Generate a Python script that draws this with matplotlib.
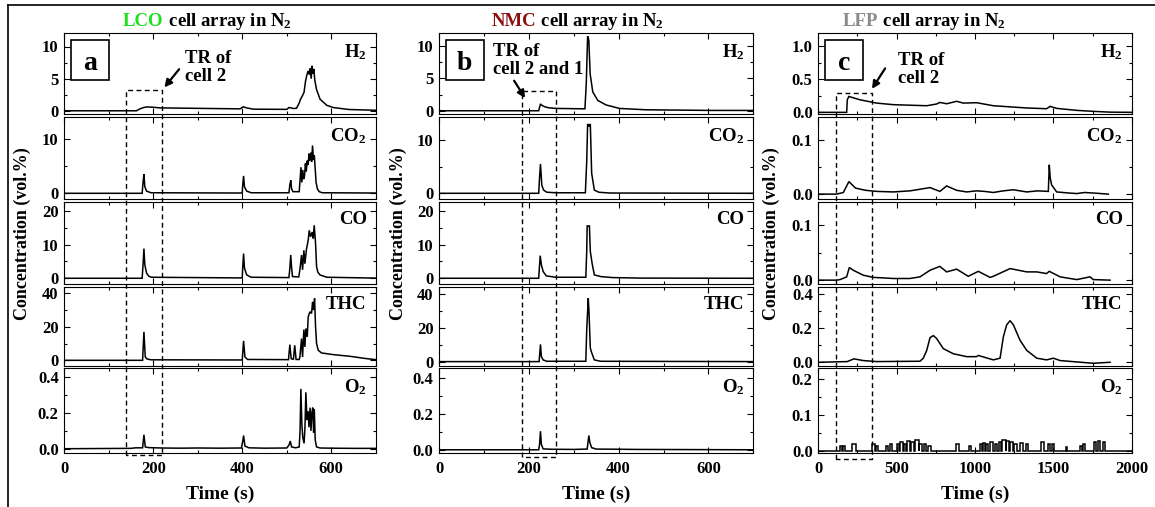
import matplotlib
matplotlib.use("Agg")
import matplotlib.pyplot as plt
from matplotlib.ticker import MultipleLocator, FormatStrFormatter
from matplotlib.lines import Line2D
from matplotlib.patches import Rectangle
from matplotlib import transforms

plt.rcParams['font.family'] = ['Liberation Serif', 'DejaVu Serif']
plt.rcParams['font.weight'] = 'bold'
plt.rcParams['mathtext.fontset'] = 'custom'
plt.rcParams['mathtext.rm'] = 'Liberation Serif:bold'
plt.rcParams['mathtext.bf'] = 'Liberation Serif:bold'
plt.rcParams['mathtext.it'] = 'Liberation Serif:bold:italic'

# ---------------- data ----------------
gases = ['H$_2$', 'CO$_2$', 'CO', 'THC', 'O$_2$']
chemistries = ['LCO', 'NMC', 'LFP']
chem_colors = ['#1ee01e', '#8b1010', '#8a8a8a']
panel_letters = ['a', 'b', 'c']
tr_notes = ['TR of\ncell 2', 'TR of\ncell 2 and 1', 'TR of\ncell 2']

# LCO cell array
lco_h2_t = [0, 162, 170, 178, 185, 200, 215, 300, 395, 402, 410, 425, 500, 505, 510, 515, 522,
            528, 531, 535, 539, 542, 545, 548, 551, 553, 555, 557, 559, 561, 563, 567, 575, 590, 605, 640, 700]
lco_h2_v = [0, 0, 0.3, 0.5, 0.6, 0.55, 0.45, 0.38, 0.3, 0.62, 0.45, 0.25, 0.22, 0.5, 0.45, 0.35, 0.4,
            1.2, 1.8, 2.3, 2.9, 4.5, 5.5, 6.2, 5.6, 6.6, 5.0, 7.0, 5.8, 6.5, 4.8, 3.3, 1.8, 0.85, 0.5, 0.2, 0.08]

lco_co2_t = [0, 175, 177, 179, 181, 185, 195, 400, 401, 403, 405, 410, 420, 505, 507, 509, 511, 514,
             528, 530, 532, 534, 536, 538, 540, 542, 544, 546, 548, 550, 552, 554, 556, 558, 560, 562,
             564, 566, 569, 573, 580, 700]
lco_co2_v = [0, 0, 2, 3.5, 1.2, 0.4, 0.1, 0.05, 1.5, 3.2, 1.2, 0.4, 0.1, 0.1, 1.5, 2.4, 0.8, 0.3,
             0.3, 2.5, 4.8, 2.0, 4.3, 2.6, 3.2, 5.5, 4.0, 6.0, 5.2, 7.3, 6.0, 7.5, 5.8, 8.8, 6.2, 7.0,
             4.5, 2.0, 0.8, 0.3, 0.1, 0.05]

lco_co_t = [0, 175, 177, 179, 181, 185, 190, 196, 400, 401, 403, 405, 410, 420, 505, 507, 509, 511, 513,
            527, 529.6, 533.3, 535.6, 538.6, 540.8, 544.6, 548.3, 550.6, 553.6, 557.3, 559.6, 561.8,
            564.8, 567.1, 570, 574.6, 590, 700]
lco_co_v = [0, 0, 4, 8.8, 4.0, 1.5, 0.6, 0.3, 0.1, 3, 7.3, 3.0, 1.0, 0.3, 0.2, 3, 6.9, 3, 0.5,
            0.4, 2.5, 6.9, 2.5, 8.3, 4.3, 8.8, 11.3, 14.2, 12.3, 13.7, 11.8, 15.7,
            10.3, 3.4, 1.8, 1.0, 0.3, 0.05]

lco_thc_t = [0, 176, 179, 182, 186, 195, 400, 403, 406, 412, 504, 507, 510, 515, 518, 521, 528,
             529.6, 533.3, 535.6, 538.6, 540.8, 543.1, 546.1, 548.3, 552.1, 555.8, 558.1, 560.3, 562.6,
             564.8, 567.1, 570.8, 578.3, 604.6, 642, 679.5, 700]
lco_thc_v = [0, 0, 17, 2, 0.8, 0.3, 0.2, 11.6, 2, 0.5, 0.4, 9.4, 1.0, 0.5, 9.0, 0.5, 0.5,
             2, 13, 2, 18.4, 8, 19, 14, 26, 29, 28, 35, 30, 37,
             20, 10, 6, 4.4, 3.4, 2.4, 1.0, 0.4]

lco_o2_t = [0, 150, 160, 176, 179, 182, 190, 220, 260, 300, 350, 398, 401, 403, 406, 415, 450, 500,
            505, 508, 511, 520, 528, 530, 531.8, 534, 536, 539, 541, 543, 545.5, 548, 550, 552.5,
            554.5, 556.5, 558.5, 560.5, 562, 564, 567, 575, 600, 650, 700]
lco_o2_v = [0, 0.002, 0.005, 0.005, 0.078, 0.01, 0.006, 0.004, 0.003, 0.004, 0.003, 0.004, 0.04, 0.074,
            0.015, 0.005, 0.003, 0.004, 0.02, 0.043, 0.01, 0.005, 0.01, 0.1, 0.335, 0.14, 0.065, 0.03,
            0.12, 0.316, 0.16, 0.21, 0.12, 0.23, 0.1, 0.2, 0.23, 0.09, 0.22, 0.05, 0.01, 0.004,
            0.003, 0.002, 0.002]

# NMC cell array
nmc_h2_t = [0, 222, 226, 230, 236, 245, 262, 300, 325, 328, 331, 333.7, 336.6, 342.5, 353.6, 372, 402, 461, 609, 700]
nmc_h2_v = [0, 0, 1.05, 0.8, 0.6, 0.45, 0.36, 0.32, 0.3, 4.2, 11.5, 10.9, 5.7, 2.9, 1.6, 0.9, 0.36, 0.15, 0.05, 0.05]

nmc_co2_t = [0, 222, 224, 226, 229, 233, 240, 260, 326, 329, 331, 334, 337, 340, 346, 356, 380, 700]
nmc_co2_v = [0, 0, 3, 5.5, 1.5, 0.6, 0.2, 0.1, 0.1, 6, 13, 12.5, 13, 3.75, 0.6, 0.2, 0.05, 0]

nmc_co_t = [0, 222, 225.4, 228, 232, 239, 260, 327, 329, 330, 333, 335, 337, 341, 346, 360, 387, 450, 700]
nmc_co_v = [0, 0, 6.7, 4, 2, 0.7, 0.3, 0.3, 8, 15.5, 15.5, 15.5, 8, 4.4, 1, 0.5, 0.2, 0.05, 0]

nmc_thc_t = [0, 223, 226, 228, 232, 240, 327, 329, 332.4, 334, 337, 340, 346, 360, 700]
nmc_thc_v = [0, 0, 10.2, 3, 1, 0.2, 0.2, 19, 37.6, 30, 8, 5.3, 1, 0.2, 0]

nmc_o2_t = [0, 222, 224, 226, 228, 232, 250, 300, 330, 333.7, 336, 340, 350, 400, 440, 700]
nmc_o2_v = [0, 0, 0.03, 0.104, 0.03, 0.005, 0.003, 0.002, 0.004, 0.08, 0.04, 0.012, 0.004, 0.003, 0.002, 0]

# LFP cell array
lfp_h2_t = [0, 181, 185, 195, 266, 372, 479, 692, 755, 776, 819, 883, 925, 1010, 1117, 1330, 1457,
            1479, 1521, 1649, 1755, 1862, 2000]
lfp_h2_v = [0, 0, 0.19, 0.24, 0.19, 0.14, 0.116, 0.1, 0.126, 0.15, 0.13, 0.167, 0.14, 0.146, 0.1,
            0.066, 0.055, 0.09, 0.06, 0.03, 0.015, 0.003, 0]

lfp_co2_t = [0, 117, 160, 195, 238, 302, 372, 479, 585, 650, 713, 776, 819, 883, 947, 1010, 1060,
             1117, 1180, 1245, 1330, 1400, 1468, 1474, 1480, 1489, 1521, 1600, 1649, 1700, 1755, 1851]
lfp_co2_v = [0, 0, 0.003, 0.023, 0.011, 0.007, 0.005, 0.004, 0.006, 0.009, 0.012, 0.005, 0.015,
             0.007, 0.004, 0.006, 0.005, 0.003, 0.006, 0.008, 0.004, 0.006, 0.005, 0.054, 0.03,
             0.017, 0.004, 0.002, 0.001, 0.003, 0.002, 0.0]

lfp_co_t = [0, 117, 139, 181, 198, 223, 287, 351, 420, 479, 585, 649, 713, 776, 819, 883, 957, 1021,
            1096, 1117, 1224, 1330, 1394, 1457, 1474, 1543, 1649, 1734, 1755, 1862]
lfp_co_v = [0, 0, 0.001, 0.006, 0.023, 0.018, 0.009, 0.005, 0.004, 0.003, 0.003, 0.006, 0.018, 0.025,
            0.015, 0.02, 0.007, 0.016, 0.005, 0.007, 0.021, 0.015, 0.015, 0.012, 0.016, 0.006,
            0.001, 0.006, 0.001, 0]

lfp_thc_t = [0, 185, 227, 287, 372, 649, 670, 692, 713, 734, 755, 798, 862, 947, 1010, 1021, 1117,
             1160, 1181, 1202, 1224, 1245, 1287, 1330, 1394, 1457, 1500, 1543, 1649, 1755, 1862]
lfp_thc_v = [0, 0.004, 0.02, 0.01, 0.004, 0.006, 0.024, 0.07, 0.145, 0.157, 0.14, 0.08, 0.05, 0.033,
             0.033, 0.04, 0.014, 0.024, 0.15, 0.22, 0.245, 0.22, 0.13, 0.07, 0.024, 0.014, 0.024,
             0.01, 0.002, -0.006, 0]

# O2 readings of the LFP run: (start, end, level) of each non-zero reading
lfp_o2_pulses = [(140, 150, 0.015), (160, 170, 0.015), (215, 240, 0.018), (345, 360, 0.018),
                 (368, 380, 0.015), (430, 445, 0.015), (455, 470, 0.018), (500, 515, 0.02),
                 (520, 540, 0.025), (545, 560, 0.02), (565, 585, 0.028), (590, 610, 0.025),
                 (620, 640, 0.03), (645, 660, 0.02), (675, 690, 0.018), (700, 720, 0.015),
                 (880, 895, 0.02), (960, 975, 0.015), (1030, 1045, 0.02), (1050, 1065, 0.022),
                 (1070, 1085, 0.018), (1095, 1115, 0.025), (1125, 1140, 0.02), (1150, 1165, 0.025),
                 (1175, 1195, 0.03), (1200, 1215, 0.028), (1225, 1240, 0.025), (1250, 1265, 0.02),
                 (1290, 1305, 0.022), (1325, 1340, 0.02), (1420, 1440, 0.025), (1465, 1480, 0.02),
                 (1490, 1505, 0.018), (1580, 1590, 0.012), (1670, 1685, 0.015), (1690, 1705, 0.018),
                 (1760, 1775, 0.025), (1785, 1800, 0.028), (1815, 1830, 0.025)]
lfp_o2_end = 2000

# axis limits and tick steps per chemistry, per gas
ylims = [
    [(-0.5, 12.1), (-1.05, 14.05), (-1.7, 22.6), (-3.4, 43.8), (-0.024, 0.452)],
    [(-0.5, 12.0), (-1.07, 14.3), (-1.7, 22.6), (-2.6, 44.2), (-0.018, 0.458)],
    [(-0.025, 1.2), (-0.009, 0.142), (-0.007, 0.142), (-0.022, 0.443), (-0.006, 0.232)],
]
ymajor = [[5, 10, 10, 20, 0.2], [5, 10, 10, 20, 0.2], [0.5, 0.1, 0.1, 0.2, 0.1]]
yfmt = [['%d', '%d', '%d', '%d', '%.1f'], ['%d', '%d', '%d', '%d', '%.1f'],
        ['%.1f', '%.1f', '%.1f', '%.1f', '%.1f']]
xmax = [700, 700, 2000]
xmajor = [200, 200, 500]

# ---------------- build series ----------------
def pulses_to_line(pulses, t_end):
    t, v = [0], [0]
    for s, e, h in pulses:
        t += [s, s, e, e]
        v += [0, h, h, 0]
    t.append(t_end)
    v.append(0)
    return t, v

lfp_o2_t, lfp_o2_v = pulses_to_line(lfp_o2_pulses, lfp_o2_end)

series = [
    [(lco_h2_t, lco_h2_v), (lco_co2_t, lco_co2_v), (lco_co_t, lco_co_v), (lco_thc_t, lco_thc_v), (lco_o2_t, lco_o2_v)],
    [(nmc_h2_t, nmc_h2_v), (nmc_co2_t, nmc_co2_v), (nmc_co_t, nmc_co_v), (nmc_thc_t, nmc_thc_v), (nmc_o2_t, nmc_o2_v)],
    [(lfp_h2_t, lfp_h2_v), (lfp_co2_t, lfp_co2_v), (lfp_co_t, lfp_co_v), (lfp_thc_t, lfp_thc_v), (lfp_o2_t, lfp_o2_v)],
]

# dashed window around the thermal runaway of cell 2 (time range, top level on the H2 axis)
tr_window = [(138, 220, 3.2), (184, 260, 3.0), (113, 340, 0.3)]
tr_window_drop = [0.02, 0.05, 0.075]
tr_text_xy = [(271, 6.7), (120, 7.8), (508, 0.65)]
tr_arrow_tail = [(262, 6.8), (164, 5.0), (436, 0.70)]
tr_arrow_tip = [(221, 3.3), (195, 1.6), (333, 0.32)]

# ---------------- layout ----------------
W, H = 1155, 507
fig = plt.figure(figsize=(W / 100, H / 100), dpi=100)

col_x = [(64.3, 375.7), (439.0, 753.3), (818.3, 1131.7)]
row_y = [(33, 114), (117, 199), (202, 284), (287, 366), (368, 453)]
ylabel_x = [22, 398, 771]
title_x = [123, 491.5, 843]


def rect(x0, x1, y0, y1):
    return [x0 / W, 1 - y1 / H, (x1 - x0) / W, (y1 - y0) / H]


LW = 1.1
for p in range(3):
    axes = []
    for g in range(5):
        ax = fig.add_axes(rect(col_x[p][0], col_x[p][1], row_y[g][0], row_y[g][1]))
        t, v = series[p][g]
        ax.plot(t, v, color='black', lw=LW, solid_joinstyle='miter')
        ax.set_xlim(0, xmax[p])
        ax.set_ylim(*ylims[p][g])
        ax.xaxis.set_major_locator(MultipleLocator(xmajor[p]))
        ax.xaxis.set_minor_locator(MultipleLocator(xmajor[p] / 2))
        ax.yaxis.set_major_locator(MultipleLocator(ymajor[p][g]))
        ax.yaxis.set_minor_locator(MultipleLocator(ymajor[p][g] / 2))
        ax.yaxis.set_major_formatter(FormatStrFormatter(yfmt[p][g]))
        ax.tick_params(which='both', direction='in', top=True, right=True, width=0.8,
                       labelsize=12, pad=4)
        ax.tick_params(which='major', length=4)
        ax.tick_params(which='minor', length=2.5)
        if g < 4:
            ax.tick_params(labelbottom=False)
        else:
            ax.tick_params(axis='x', pad=6)
        for s in ax.spines.values():
            s.set_linewidth(0.8)
        ax.text(1 - 9 / (col_x[p][1] - col_x[p][0]), 1 - 9 / (row_y[g][1] - row_y[g][0]),
                gases[g], transform=ax.transAxes, ha='right', va='top', fontsize=13.5,
                fontweight='bold')
        axes.append(ax)

    top = axes[0]
    # panel letter in a box
    bx0, bx1 = 0.022, 0.142
    by0, by1 = 0.42, 0.91
    top.add_patch(Rectangle((bx0, by0), bx1 - bx0, by1 - by0, transform=top.transAxes,
                            fill=False, ec='black', lw=1.2, zorder=5))
    top.text((bx0 + bx1) / 2, (by0 + by1) / 2, panel_letters[p], transform=top.transAxes,
             ha='center', va='center_baseline', fontsize=20, fontweight='bold')

    # thermal runaway note with arrow
    top.text(tr_text_xy[p][0], tr_text_xy[p][1], tr_notes[p], ha='left', va='center',
             fontsize=13.5, fontweight='bold', linespacing=1.1)
    top.annotate('', xy=tr_arrow_tip[p], xytext=tr_arrow_tail[p],
                 arrowprops=dict(arrowstyle='-|>', color='black', lw=1.6, mutation_scale=11),
                 annotation_clip=False)

    # dashed window spanning the whole column
    t0, t1, ytop = tr_window[p]
    inv = fig.transFigure.inverted()
    x0f, ytf = inv.transform(top.transData.transform((t0, ytop)))
    x1f, _ = inv.transform(top.transData.transform((t1, ytop)))
    bot = axes[-1]
    blend = transforms.blended_transform_factory(bot.transData, bot.transAxes)
    _, ybf = inv.transform(blend.transform((t0, -tr_window_drop[p])))
    fig.add_artist(Line2D([x0f, x0f, x1f, x1f, x0f], [ybf, ytf, ytf, ybf, ybf],
                          transform=fig.transFigure, color='black', lw=1.0,
                          ls=(0, (3.5, 2.5))))

    # column title with coloured chemistry name
    t_a = fig.text(title_x[p] / W, 1 - 25.5 / H, chemistries[p], color=chem_colors[p],
                   fontsize=13.5, fontweight='bold', ha='left', va='baseline')
    plt.annotate(' cell array in N$_2$', xy=(1, 1 - 25.5 / H), xycoords=(t_a, 'figure fraction'),
                 xytext=(0, 0), textcoords='offset points', ha='left', va='baseline',
                 fontsize=13.5, fontweight='bold', color='black', annotation_clip=False)

    # axis labels
    fig.text(ylabel_x[p] / W, 1 - 234 / H, 'Concentration (vol.%)', rotation=90,
             ha='center', va='center', fontsize=13, fontweight='bold')
    fig.text((col_x[p][0] + col_x[p][1]) / 2 / W, 1 - 494 / H, 'Time (s)',
             ha='center', va='center', fontsize=14, fontweight='bold')

# partial frame around the figure
fig.add_artist(Line2D([8 / W, 1.0], [1 - 5 / H, 1 - 5 / H], transform=fig.transFigure,
                      color='black', lw=1.2))
fig.add_artist(Line2D([8 / W, 8 / W], [1 - 5 / H, 0.0], transform=fig.transFigure,
                      color='black', lw=1.2))

fig.savefig('out.png', dpi=100)
